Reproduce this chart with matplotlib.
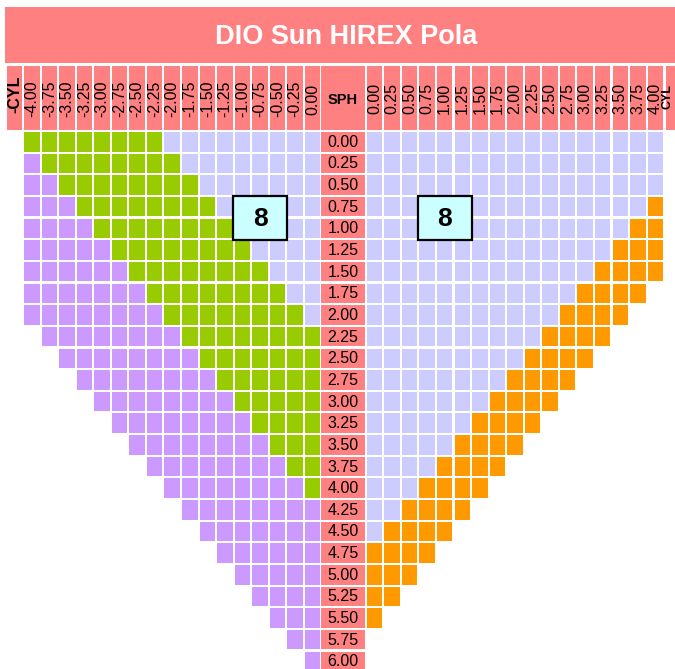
import matplotlib
matplotlib.use("Agg")
import matplotlib.pyplot as plt
from matplotlib.patches import Rectangle

plt.rcParams['font.family'] = ['Liberation Sans', 'DejaVu Sans']

# ---- data ----
title = "DIO Sun HIREX Pola"
sph = ["0.00", "0.25", "0.50", "0.75", "1.00", "1.25", "1.50", "1.75", "2.00",
       "2.25", "2.50", "2.75", "3.00", "3.25", "3.50", "3.75", "4.00", "4.25",
       "4.50", "4.75", "5.00", "5.25", "5.50", "5.75", "6.00"]
cyl_left = ["-4.00", "-3.75", "-3.50", "-3.25", "-3.00", "-2.75", "-2.50", "-2.25",
            "-2.00", "-1.75", "-1.50", "-1.25", "-1.00", "-0.75", "-0.50", "-0.25", "0.00"]
cyl_right = ["0.00", "0.25", "0.50", "0.75", "1.00", "1.25", "1.50", "1.75", "2.00",
             "2.25", "2.50", "2.75", "3.00", "3.25", "3.50", "3.75", "4.00"]

# left half, per SPH row: empty cells, purple, green, lavender (from -4.00 side)
left_empty  = [0, 0, 0, 0, 0, 0, 0, 0, 0, 1, 2, 3, 4, 5, 6, 7, 8, 9, 10, 11, 12, 13, 14, 15, 16]
left_purple = [0, 1, 2, 3, 4, 5, 6, 7, 8, 8, 8, 8, 8, 8, 8, 8, 8, 8, 7, 6, 5, 4, 3, 2, 1]
left_green  = [8, 8, 8, 8, 8, 8, 8, 8, 8, 8, 7, 6, 5, 4, 3, 2, 1, 0, 0, 0, 0, 0, 0, 0, 0]
left_lav    = [9, 8, 7, 6, 5, 4, 3, 2, 1, 0, 0, 0, 0, 0, 0, 0, 0, 0, 0, 0, 0, 0, 0, 0, 0]

# right half, per SPH row: lavender, orange (from 0.00 side)
right_lav    = [17, 17, 17, 16, 15, 14, 13, 12, 11, 10, 9, 8, 7, 6, 5, 4, 3, 2, 1, 0, 0, 0, 0, 0, 0]
right_orange = [0, 0, 0, 1, 2, 3, 4, 4, 4, 4, 4, 4, 4, 4, 4, 4, 4, 4, 4, 4, 3, 2, 1, 0, 0]

# "8" boxes: rows covered and columns covered on each side
box_text = "8"
box_rows = [3, 4]
box_left_cols = [12, 14]
box_right_cols = [3, 5]

# ---- colours ----
RED = "#FF8080"
GREEN = "#99CC00"
PURPLE = "#CC99FF"
LAV = "#CCCCFF"
ORANGE = "#FF9900"
BOXC = "#CCFFFF"

# ---- layout (pixels) ----
W, H = 675, 669
PX, PY = 17.56, 21.65        # cell pitch
CW, CH = 15.5, 19.5          # cell size
LX0 = 24.0                   # first left column
RX0 = 366.7                  # first right column
Y0 = 132.0                   # first SPH row
HEAD_Y, HEAD_H = 66.0, 64.0


def left_x(c):
    return LX0 + c * PX


def right_x(k):
    return RX0 + k * PX


def row_y(r):
    return Y0 + r * PY


fig = plt.figure(figsize=(W / 100, H / 100), dpi=100)
ax = fig.add_axes([0, 0, 1, 1])
ax.set_xlim(0, W)
ax.set_ylim(H, 0)
ax.axis("off")


def cell(x, y, w, h, color, z=1):
    ax.add_patch(Rectangle((x, y), w, h, facecolor=color, edgecolor="none", zorder=z))


# title bar
cell(5, 7, W, 56, RED)
ax.text(346, 37, title, color="white", fontsize=19.5, fontweight="bold",
        ha="center", va="center")

# header row
cell(7, HEAD_Y, 15, HEAD_H, RED)
ax.text(14.5, HEAD_Y + 28, "-CYL", rotation=90, fontsize=11.5, fontweight="bold",
        ha="center", va="center")
for c, lab in enumerate(cyl_left):
    cell(left_x(c), HEAD_Y, CW, HEAD_H, RED)
    ax.text(left_x(c) + CW / 2, HEAD_Y + 33, lab, rotation=90, fontsize=11.5,
            ha="center", va="center")
sph_x = left_x(len(cyl_left)) - 1.3
sph_w = RX0 - sph_x - 1.8
cell(sph_x, HEAD_Y, sph_w, HEAD_H, RED)
ax.text(sph_x + sph_w / 2, HEAD_Y + 33.5, "SPH", fontsize=10.5, fontweight="bold",
        ha="center", va="center")
for k, lab in enumerate(cyl_right):
    cell(right_x(k), HEAD_Y, CW, HEAD_H, RED)
    ax.text(right_x(k) + CW / 2, HEAD_Y + 32, lab, rotation=90, fontsize=11.5,
            ha="center", va="center")
cyl_x = right_x(len(cyl_right)) + 0.5
cell(cyl_x, HEAD_Y, 15, HEAD_H, RED)
ax.text(cyl_x + 2, HEAD_Y + 31, "CYL", rotation=90, fontsize=9, fontweight="bold",
        ha="center", va="center")

# grid
for r, lab in enumerate(sph):
    y = row_y(r)
    cell(sph_x, y, sph_w, CH, RED)
    ax.text(sph_x + sph_w / 2, y + CH / 2 + 0.5, lab, fontsize=11.5, ha="center", va="center")

    c = left_empty[r]
    for color, n in ((PURPLE, left_purple[r]), (GREEN, left_green[r]), (LAV, left_lav[r])):
        for _ in range(n):
            cell(left_x(c), y, CW, CH, color)
            c += 1

    k = 0
    for color, n in ((LAV, right_lav[r]), (ORANGE, right_orange[r])):
        for _ in range(n):
            cell(right_x(k), y, CW, CH, color)
            k += 1

# boxes with "8"
for xs in ((left_x(box_left_cols[0]), left_x(box_left_cols[1]) + CW),
           (right_x(box_right_cols[0]), right_x(box_right_cols[1]) + CW)):
    bx0, bx1 = xs[0] - 1.5, xs[1] + 1.5
    by0, by1 = row_y(box_rows[0]) - 0.5, row_y(box_rows[1]) + CH + 1.5
    ax.add_patch(Rectangle((bx0, by0), bx1 - bx0, by1 - by0, facecolor=BOXC,
                           edgecolor="black", linewidth=1.6, zorder=5))
    ax.text((bx0 + bx1) / 2, (by0 + by1) / 2 + 1, box_text, fontsize=19,
            fontweight="bold", ha="center", va="center", zorder=6)

fig.savefig("out.png", dpi=100)
